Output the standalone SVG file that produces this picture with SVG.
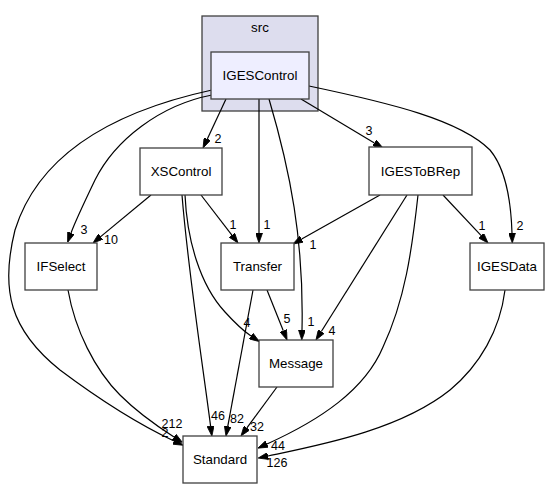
<svg xmlns="http://www.w3.org/2000/svg" width="558" height="489" viewBox="0 0 558 489">
<style>
text{font-family:"Liberation Sans",Arial,sans-serif;font-size:13.33px;fill:#000;}
.n{text-anchor:middle;}
.l{text-anchor:middle;font-size:12.5px;}
.box{fill:#fff;stroke:#404040;stroke-width:1.3;}
.e{fill:none;stroke:#000;stroke-width:1.2;marker-end:url(#ah);}
</style>
<defs>
<marker id="ah" viewBox="0 0 10 7" refX="0" refY="3.5" markerWidth="10" markerHeight="7" markerUnits="userSpaceOnUse" orient="auto">
<path d="M0,0 L10,3.5 L0,7 z" fill="#000" stroke="#000" stroke-width="0.8"/>
</marker>
</defs>
<rect width="558" height="489" fill="#fff"/>
<g id="cluster_src">
<rect x="202" y="16" width="116" height="95" fill="#ddddee" stroke="#404040" stroke-width="1.3"/>
<text class="n" x="260" y="32">src</text>
</g>
<g id="connectors">
<path class="e" d="M226,99 L207.3,138.9"/>
<path class="e" d="M259,99 L259,233"/>
<path class="e" d="M269,99 C290,170 304,240 302,330"/>
<path class="e" d="M301,99 L374.4,142.9"/>
<path class="e" d="M309,86 C390,103 460,120 490,150 C505,168 511,200 512,233"/>
<path class="e" d="M212,95 C160,105 115,140 95,180 C83,205 75,222 71,233"/>
<path class="e" d="M212,90 C120,110 40,150 15,230 C0,290 10,330 60,370 C100,400 140,425 174,441"/>
<path class="e" d="M151,195 L100.7,236.6"/>
<path class="e" d="M201,195 L231.9,235.1"/>
<path class="e" d="M185,195 C187,240 200,285 225,312 C235,323 245,332 251,336"/>
<path class="e" d="M182,195 C188,270 202,360 210.6,426.1"/>
<path class="e" d="M267,290 L283.3,330.7"/>
<path class="e" d="M253,290 L227.8,426.2"/>
<path class="e" d="M277,387 L246.9,427.9"/>
<path class="e" d="M380,195 L301.7,239.1"/>
<path class="e" d="M407,195 L321.3,331.5"/>
<path class="e" d="M418,195 C412,250 405,300 383,347 C365,390 320,420 267,444"/>
<path class="e" d="M505,290 C500,330 480,365 450,390 C400,430 320,445 268,456"/>
<path class="e" d="M443,195 L481.2,235.7"/>
<path class="e" d="M68,290 C75,330 95,370 120,395 C140,415 160,428 174,437"/>
<text class="l" x="218" y="143">2</text>
<text class="l" x="267" y="229">1</text>
<text class="l" x="311" y="326">1</text>
<text class="l" x="369" y="135">3</text>
<text class="l" x="520" y="230">2</text>
<text class="l" x="84" y="234">3</text>
<text class="l" x="172" y="428">212</text>
<text class="l" x="165" y="437">2</text>
<text class="l" x="111" y="244">10</text>
<text class="l" x="233" y="229">1</text>
<text class="l" x="247" y="327">4</text>
<text class="l" x="218" y="420">46</text>
<text class="l" x="287" y="323">5</text>
<text class="l" x="237" y="423">82</text>
<text class="l" x="257" y="431">32</text>
<text class="l" x="313" y="249">1</text>
<text class="l" x="332" y="335">4</text>
<text class="l" x="278" y="450">44</text>
<text class="l" x="277" y="467">126</text>
<text class="l" x="482" y="230">1</text>
</g>
<g id="IGESControl">
<rect x="211" y="52" width="98" height="47" fill="#eeeeff" stroke="#404040" stroke-width="1.3"/>
<text class="n" x="260" y="80">IGESControl</text>
</g>
<g id="XSControl">
<rect class="box" x="140" y="148" width="82" height="47"/>
<text class="n" x="181" y="176">XSControl</text>
</g>
<g id="IGESToBRep">
<rect class="box" x="369" y="147" width="103" height="48"/>
<text class="n" x="420.5" y="176">IGESToBRep</text>
</g>
<g id="IFSelect">
<rect class="box" x="25" y="243" width="72" height="47"/>
<text class="n" x="61" y="271">IFSelect</text>
</g>
<g id="Transfer">
<rect class="box" x="221" y="243" width="73" height="47"/>
<text class="n" x="257.5" y="271">Transfer</text>
</g>
<g id="IGESData">
<rect class="box" x="470" y="243" width="74" height="47"/>
<text class="n" x="507" y="271">IGESData</text>
</g>
<g id="Message">
<rect class="box" x="259" y="340" width="74" height="47"/>
<text class="n" x="296" y="368">Message</text>
</g>
<g id="Standard">
<rect class="box" x="183" y="436" width="74" height="47"/>
<text class="n" x="220" y="464">Standard</text>
</g>
</svg>
